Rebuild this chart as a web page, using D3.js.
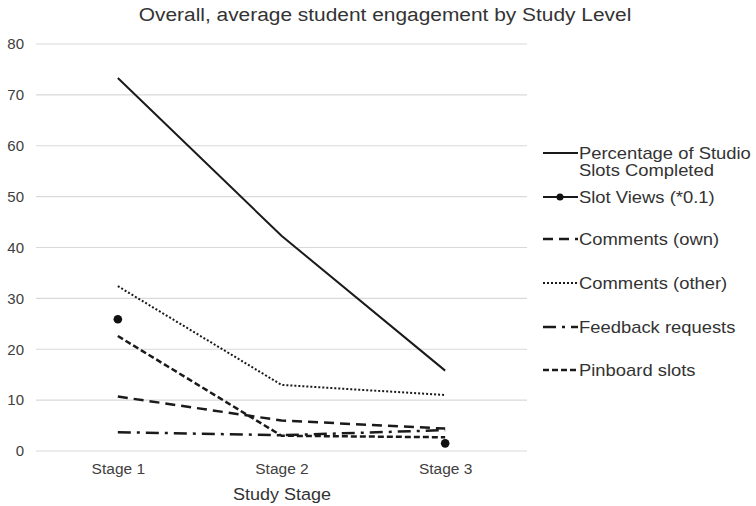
<!DOCTYPE html>
<html>
<head>
<meta charset="utf-8">
<script src="https://cdn.jsdelivr.net/npm/d3@7"></script>
<style>
  body { margin: 0; background: #fff; }
  svg { font-family: "Liberation Sans", Arial, Helvetica, sans-serif; }
</style>
</head>
<body>
<div id="chart"></div>
<script>
// data
const stages = ["Stage 1", "Stage 2", "Stage 3"];
const pctCompleted = [73.3, 42.3, 15.8];
const slotViews = [25.9, null, 1.5];
const commentsOwn = [10.7, 6.0, 4.4];
const commentsOther = [32.4, 13.0, 11.0];
const feedbackReq = [3.7, 3.1, 4.1];
const pinboardSlots = [22.6, 3.0, 2.7];
const yTicks = [0, 10, 20, 30, 40, 50, 60, 70, 80];

const series = [
  { name: ["Percentage of Studio", "Slots Completed"], values: pctCompleted, dash: null, w: 2 },
  { name: ["Slot Views (*0.1)"], values: slotViews, dash: null, w: 2, marker: true },
  { name: ["Comments (own)"], values: commentsOwn, dash: "10,6", w: 2.5 },
  { name: ["Comments (other)"], values: commentsOther, dash: "2,2", w: 2 },
  { name: ["Feedback requests"], values: feedbackReq, dash: "13,6,3,6", w: 2.5 },
  { name: ["Pinboard slots"], values: pinboardSlots, dash: "6,3", w: 2.5 }
];

const width = 756, height = 506;
const svg = d3.select("#chart").append("svg")
  .attr("width", width)
  .attr("height", height);

const x = d3.scalePoint().domain(stages).range([36, 527]).padding(0.5);
const y = d3.scaleLinear().domain([0, 80]).range([451, 44]);

// the picture's text is a bit wide, so stretch it sideways
function wideText(px, py, sx) {
  return svg.append("g")
    .attr("transform", `translate(${px},${py}) scale(${sx},1)`)
    .append("text");
}

// grid
svg.append("g").selectAll("line")
  .data(yTicks)
  .enter().append("line")
  .attr("x1", 36).attr("x2", 527)
  .attr("y1", d => y(d)).attr("y2", d => y(d))
  .attr("stroke", "#d9d9d9")
  .attr("stroke-width", 1.2);

// y axis labels
const yAxis = svg.append("g")
  .attr("transform", "translate(36,0)")
  .call(d3.axisLeft(y).tickValues(yTicks).tickSize(0).tickPadding(12));
yAxis.select(".domain").remove();
yAxis.selectAll("text")
  .attr("font-size", 15)
  .attr("fill", "#404040")
  .style("font-family", "Liberation Sans, Arial, sans-serif");

// x axis labels
const xAxis = svg.append("g")
  .attr("transform", "translate(0,451)")
  .call(d3.axisBottom(x).tickSize(0).tickPadding(12));
xAxis.select(".domain").remove();
xAxis.selectAll("text")
  .attr("font-size", 15.5)
  .attr("fill", "#404040")
  .style("font-family", "Liberation Sans, Arial, sans-serif");

wideText(282, 500, 1.06)
  .attr("text-anchor", "middle")
  .attr("font-size", 17)
  .attr("fill", "#333")
  .text("Study Stage");

wideText(385, 21, 1.1)
  .attr("text-anchor", "middle")
  .attr("font-size", 19)
  .attr("fill", "#333")
  .text("Overall, average student engagement by Study Level");

// lines
const line = d3.line()
  .defined(d => d != null)
  .x((d, i) => x(stages[i]))
  .y(d => y(d));

series.forEach(s => {
  svg.append("path")
    .datum(s.values)
    .attr("d", line)
    .attr("fill", "none")
    .attr("stroke", "#1a1a1a")
    .attr("stroke-width", s.w)
    .attr("stroke-dasharray", s.dash);
  if (s.marker) {
    svg.append("g").selectAll("circle")
      .data(s.values.map((v, i) => ({ v, i })).filter(d => d.v != null))
      .enter().append("circle")
      .attr("cx", d => x(stages[d.i]))
      .attr("cy", d => y(d.v))
      .attr("r", 4.3)
      .attr("fill", "#111");
  }
});

// legend
const legendY = [153, 197, 239, 283, 327, 370];
const legend = svg.append("g");
series.forEach((s, i) => {
  const ly = legendY[i];
  legend.append("line")
    .attr("x1", 543).attr("x2", 578)
    .attr("y1", ly).attr("y2", ly)
    .attr("stroke", "#1a1a1a")
    .attr("stroke-width", s.w)
    .attr("stroke-dasharray", s.dash);
  if (s.marker) {
    legend.append("circle")
      .attr("cx", 560).attr("cy", ly).attr("r", 3.5).attr("fill", "#111");
  }
  const t = wideText(579, ly + 6, 1.15)
    .attr("font-size", 16)
    .attr("fill", "#333");
  s.name.forEach((n, k) => {
    t.append("tspan").attr("x", 0).attr("dy", k ? 17 : 0).text(n);
  });
});
</script>
</body>
</html>
